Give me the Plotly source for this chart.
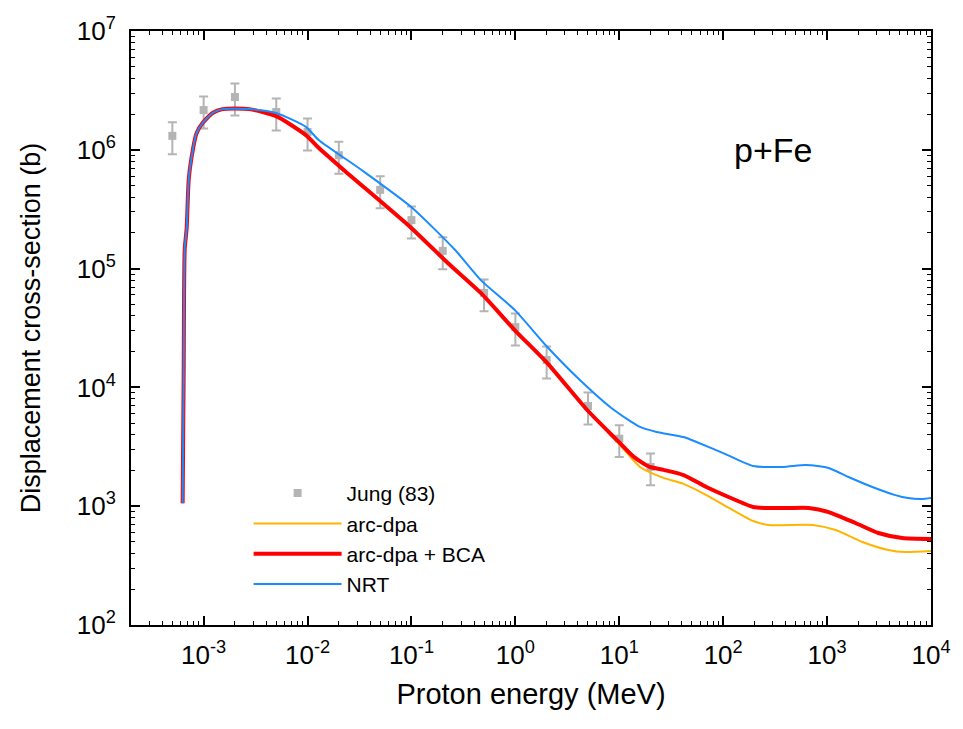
import plotly.graph_objects as go

# ---- Data ----
# Common low-energy rise shared by all three calculated curves
E_low = [6.28e-4, 6.43e-4, 6.57e-4, 6.87e-4, 7.18e-4, 7.66e-4, 8.55e-4, 9.77e-4,
         1.22e-3, 1.52e-3, 2.75e-3]
S_low = [1.06e3, 1.40e4, 1.44e5, 2.2e5, 5.57e5, 8.7e5, 1.38e6, 1.68e6,
         2.04e6, 2.2e6, 2.2e6]

# NRT (blue)
E_nrt = [4.98e-3, 9.64e-3, 1.28e-2, 3.31e-2, 9.95e-2, 0.262, 0.465, 0.984, 2.03, 4.2,
         8.9, 15.8, 22.9, 41.5, 55.3, 100, 194, 376, 624, 1035, 1607, 2728, 4529,
         6026, 8200, 1e4]
S_nrt = [2.04e6, 1.56e6, 1.21e6, 6.76e5, 3.3e5, 1.44e5, 8.0e4, 4.49e4, 2.19e4, 1.15e4,
         6.45e3, 4.65e3, 4.22e3, 3.82e3, 3.47e3, 2.8e3, 2.18e3, 2.14e3, 2.22e3, 2.1e3,
         1.76e3, 1.45e3, 1.24e3, 1.17e3, 1.15e3, 1.17e3]

# arc-dpa + BCA (red)
E_bca = [4.98e-3, 9.64e-3, 1.28e-2, 2.23e-2, 9.95e-2, 0.225, 0.465, 0.984, 2.03, 4.91,
         9.5, 13.8, 19.6, 26.7, 41.5, 68.9, 114, 194, 258, 429, 666, 1035, 1876, 3114,
         5284, 1e4]
S_bca = [1.92e6, 1.33e6, 1.04e6, 6.76e5, 2.2e5, 1.11e5, 6.24e4, 3.04e4, 1.6e4, 6.45e3,
         3.6e3, 2.6e3, 2.14e3, 2.02e3, 1.83e3, 1.45e3, 1.19e3, 984, 966, 966, 966, 893,
         722, 595, 540, 530]

# arc-dpa (orange)
E_arc = [4.98e-3, 9.64e-3, 1.28e-2, 2.23e-2, 9.95e-2, 0.225, 0.465, 0.984, 2.03, 4.91,
         9.5, 15.8, 26.7, 41.5, 68.9, 114, 194, 276, 728, 1208, 2188, 3882, 5641, 1e4]
S_arc = [1.92e6, 1.33e6, 1.04e6, 6.76e5, 2.2e5, 1.11e5, 6.24e4, 3.04e4, 1.6e4, 6.45e3,
         3.5e3, 2.14e3, 1.73e3, 1.54e3, 1.24e3, 966, 750, 695, 695, 631, 500, 428, 411, 420]

# Jung (83) experimental data, +/-30 % error bars
E_jung = [5e-4, 1e-3, 2e-3, 5e-3, 1e-2, 2e-2, 5e-2, 0.1, 0.2, 0.5, 1, 2, 5, 10, 20]
S_jung = [1.31e6, 2.16e6, 2.78e6, 2.08e6, 1.41e6, 9.0e5, 4.6e5, 2.56e5, 1.41e5,
          6.24e4, 3.22e4, 1.7e4, 6.97e3, 3.7e3, 2.14e3]
jung_err_pct = 30

x_tickvals = [1e-3, 1e-2, 1e-1, 1e0, 1e1, 1e2, 1e3, 1e4]
x_ticktext = ["10<sup>-3</sup>", "10<sup>-2</sup>", "10<sup>-1</sup>", "10<sup>0</sup>",
              "10<sup>1</sup>", "10<sup>2</sup>", "10<sup>3</sup>", "10<sup>4</sup>"]
y_tickvals = [1e2, 1e3, 1e4, 1e5, 1e6, 1e7]
y_ticktext = ["10<sup>2</sup>", "10<sup>3</sup>", "10<sup>4</sup>", "10<sup>5</sup>",
              "10<sup>6</sup>", "10<sup>7</sup>"]

FONT = "Arial, Liberation Sans, sans-serif"

fig = go.Figure()

fig.add_trace(go.Scatter(
    x=E_jung, y=S_jung, mode="markers", name="Jung (83)",
    marker=dict(symbol="square", size=8, color="#b4b4b4"),
    error_y=dict(type="percent", value=jung_err_pct, color="#b4b4b4", thickness=2, width=4.5),
))
fig.add_trace(go.Scatter(
    x=E_low + E_arc, y=S_low + S_arc, mode="lines", name="arc-dpa",
    line=dict(color="#ffb400", width=2, shape="spline", smoothing=0.6),
))
fig.add_trace(go.Scatter(
    x=E_low + E_bca, y=S_low + S_bca, mode="lines", name="arc-dpa + BCA",
    line=dict(color="#ff0000", width=4, shape="spline", smoothing=0.6),
))
fig.add_trace(go.Scatter(
    x=E_low + E_nrt, y=S_low + S_nrt, mode="lines", name="NRT",
    line=dict(color="#1a8cff", width=2, shape="spline", smoothing=0.6),
))

axis_common = dict(
    showline=True, linecolor="black", linewidth=2, mirror="allticks",
    ticks="inside", ticklen=9, tickwidth=1.5, tickcolor="black",
    showgrid=False, zeroline=False,
    minor=dict(ticks="inside", ticklen=4, tickwidth=1, tickcolor="black",
               dtick="D1", showgrid=False),
    tickfont=dict(family=FONT, size=26, color="black"),
)

fig.update_xaxes(type="log", range=[-3.699, 4], tickvals=x_tickvals, ticktext=x_ticktext,
                 ticklabelstandoff=6,
                 title=dict(text="Proton energy (MeV)", font=dict(family=FONT, size=29, color="black"),
                            standoff=14),
                 **axis_common)
fig.update_yaxes(type="log", range=[2, 7], tickvals=y_tickvals, ticktext=y_ticktext,
                 ticklabelstandoff=8,
                 title=dict(text="Displacement cross-section (b)",
                            font=dict(family=FONT, size=27, color="black"), standoff=28),
                 **axis_common)

fig.add_annotation(text="p+Fe", x=0.802, y=0.8, xref="paper", yref="paper",
                   showarrow=False, font=dict(family=FONT, size=34, color="black"),
                   xanchor="center", yanchor="middle")

fig.update_layout(
    width=963, height=729,
    margin=dict(l=131, r=27, t=31, b=104),
    paper_bgcolor="white", plot_bgcolor="white",
    font=dict(family=FONT, color="black"),
    legend=dict(x=0.147, y=0.256, xanchor="left", yanchor="top",
                bgcolor="rgba(0,0,0,0)", font=dict(family=FONT, size=21),
                itemwidth=88, tracegroupgap=0),
    showlegend=True,
)

fig.write_html("out.html")
